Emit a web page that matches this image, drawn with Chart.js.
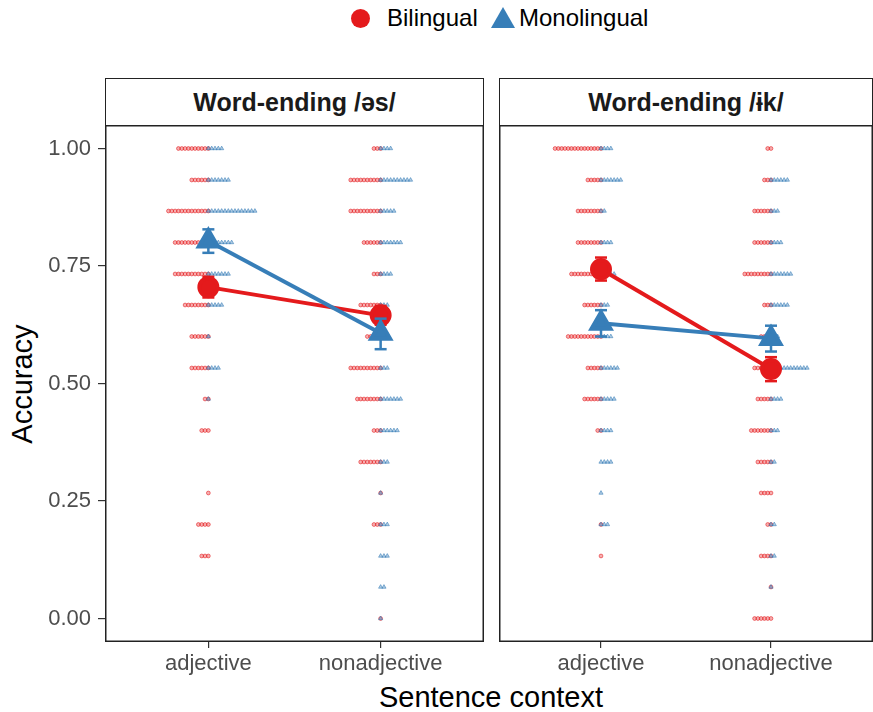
<!DOCTYPE html>
<html><head><meta charset="utf-8">
<script src="https://cdn.jsdelivr.net/npm/chart.js@4.4.1/dist/chart.umd.min.js"></script>
<style>
body{margin:0;background:#fff;}
#wrap{position:relative;width:873px;height:712px;overflow:hidden;font-family:"Liberation Sans",Arial,sans-serif;background:#fff;}
canvas{position:absolute;}
.strip{position:absolute;top:78px;height:48px;box-sizing:border-box;border:1.5px solid #222;border-bottom:none;display:flex;align-items:center;justify-content:center;font-weight:bold;font-size:25px;color:#1a1a1a;}
.txt{position:absolute;white-space:nowrap;color:#000;}
</style></head>
<body><div id="wrap">
<div class="strip" style="left:105px;width:379px;">Word-ending /əs/</div>
<div class="strip" style="left:499px;width:374px;">Word-ending /ɨk/</div>
<div style="position:absolute;left:351px;top:9px;width:19px;height:19px;border-radius:50%;background:#E41A1C;"></div>
<div class="txt" style="left:387px;top:4px;font-size:24px;">Bilingual</div>
<svg style="position:absolute;left:490px;top:5px;" width="26" height="26"><polygon points="1,23 25,23 13,2" fill="#377EB8"/></svg>
<div class="txt" style="left:519px;top:4px;font-size:24px;">Monolingual</div>
<div class="txt" style="left:22px;top:384px;font-size:29px;transform:translate(-50%,-50%) rotate(-90deg);">Accuracy</div>
<div class="txt" style="left:491px;top:697px;font-size:29px;transform:translate(-50%,-50%);">Sentence context</div>
<canvas id="c1" width="484" height="587" style="left:0;top:125px;"></canvas>
<canvas id="c2" width="374" height="587" style="left:499px;top:125px;"></canvas>
</div>
<script>
// ---- data ----
const contexts = ["adjective", "nonadjective"];
const levels = [0, 0.067, 0.133, 0.2, 0.267, 0.333, 0.4, 0.467, 0.533, 0.6, 0.667, 0.733, 0.8, 0.867, 0.933, 1];
const yTicks = [0, 0.25, 0.5, 0.75, 1];
// counts of participants at each accuracy level (panel 1: /əs/, panel 2: /ɨk/)
const p1AdjBi   = [0,0,3,4,1,0,3,2,6,6,8,11,11,13,6,10];
const p1AdjMono = [0,0,0,0,0,0,0,1,4,1,5,7,8,15,7,5];
const p1NonBi   = [1,0,0,3,1,7,3,8,10,5,7,3,6,10,10,3];
const p1NonMono = [1,2,3,3,1,3,6,7,3,3,3,4,7,5,10,4];
const p2AdjBi   = [0,0,1,1,0,0,2,6,5,11,6,10,8,8,5,15];
const p2AdjMono = [0,0,0,3,1,4,4,5,6,4,3,5,4,2,7,4];
const p2NonBi   = [6,1,4,2,4,5,7,5,6,4,3,9,6,6,3,2];
const p2NonMono = [0,1,2,2,0,2,3,4,12,3,6,7,4,3,6,0];
// means and error bars [adjective, nonadjective]
const p1BiMean = [0.705, 0.645], p1BiLo = [0.683, 0.625], p1BiHi = [0.727, 0.665];
const p1MonoMean = [0.803, 0.607], p1MonoLo = [0.778, 0.573], p1MonoHi = [0.828, 0.638];
const p2BiMean = [0.743, 0.531], p2BiLo = [0.719, 0.505], p2BiHi = [0.768, 0.556];
const p2MonoMean = [0.628, 0.596], p2MonoLo = [0.600, 0.568], p2MonoHi = [0.656, 0.623];

const RED = '#E41A1C', BLUE = '#377EB8';
const STEP = 0.0193; // dot stacking step in x units

function dots(countsByCat, dir) {
  const out = [];
  countsByCat.forEach((counts, ci) => {
    counts.forEach((n, li) => {
      for (let k = 0; k < n; k++) out.push({x: ci + 1 + dir * k * STEP, y: levels[li]});
    });
  });
  return out;
}
function meanPts(m) { return m.map((v, i) => ({x: i + 1, y: v})); }
function errPts(lo, hi) {
  const out = [];
  lo.forEach((v, i) => { out.push({x: i + 1, y: v}, {x: i + 1, y: hi[i]}, {x: i + 1, y: null}); });
  return out;
}
function noPad(s) { s.paddingTop = 0; s.paddingBottom = 0; s.paddingLeft = 0; s.paddingRight = 0; }

const borderPlugin = {id: 'pborder', afterDraw(c) {
  const {ctx, chartArea: a} = c; ctx.save(); ctx.strokeStyle = '#222'; ctx.lineWidth = 1.5;
  ctx.strokeRect(a.left + 0.75, a.top + 0.75, a.right - a.left - 1.5, a.bottom - a.top - 1.5); ctx.restore();
}};

function makeChart(id, biCounts, monoCounts, biMean, biLo, biHi, monoMean, monoLo, monoHi, showY) {
  return new Chart(document.getElementById(id), {
    type: 'scatter',
    data: {datasets: [
      {data: dots(biCounts, -1), pointStyle: 'circle', pointRadius: 1.9, backgroundColor: 'rgba(228,26,28,0.35)', borderColor: 'rgba(228,26,28,0.7)', borderWidth: 0.8, order: 10},
      {data: dots(monoCounts, 1), pointStyle: 'triangle', pointRadius: 2.4, backgroundColor: 'rgba(55,126,184,0.4)', borderColor: 'rgba(55,126,184,0.7)', borderWidth: 0.8, order: 9},
      {type: 'line', data: errPts(biLo, biHi), borderColor: RED, borderWidth: 2.5, pointStyle: 'line', pointRadius: 6, pointBorderWidth: 2.5, pointBorderColor: RED, spanGaps: false, order: 6},
      {type: 'line', data: meanPts(biMean), borderColor: RED, borderWidth: 4, pointStyle: 'circle', pointRadius: 9, pointBackgroundColor: RED, pointBorderColor: RED, order: 5},
      {type: 'line', data: errPts(monoLo, monoHi), borderColor: BLUE, borderWidth: 2.5, pointStyle: 'line', pointRadius: 6, pointBorderWidth: 2.5, pointBorderColor: BLUE, spanGaps: false, order: 4},
      {type: 'line', data: meanPts(monoMean), borderColor: BLUE, borderWidth: 4, pointStyle: 'triangle', pointRadius: 11, pointBackgroundColor: BLUE, pointBorderColor: BLUE, order: 3}
    ]},
    options: {
      responsive: false, animation: false, devicePixelRatio: 1,
      layout: {padding: 0, autoPadding: false},
      plugins: {legend: {display: false}, tooltip: {enabled: false}},
      scales: {
        x: {type: 'linear', min: 0.4, max: 2.6,
          afterBuildTicks: s => { s.ticks = [{value: 1}, {value: 2}]; },
          afterFit: s => { s.height = 70; noPad(s); },
          ticks: {callback: (v, i) => contexts[i], font: {family: 'Liberation Sans', size: 22}, color: '#4d4d4d', padding: 3, maxRotation: 0, autoSkip: false},
          grid: {drawOnChartArea: false, drawTicks: true, tickLength: 6, color: '#333', lineWidth: 1.2},
          border: {display: false}},
        y: {display: showY, min: -0.05, max: 1.05,
          afterBuildTicks: s => { s.ticks = yTicks.map(v => ({value: v})); },
          afterFit: s => { s.width = showY ? 105 : 0; noPad(s); },
          ticks: {callback: v => v.toFixed(2), font: {family: 'Liberation Sans', size: 22}, color: '#4d4d4d', padding: 7},
          grid: {drawOnChartArea: false, drawTicks: true, tickLength: 7, color: '#333', lineWidth: 1.2},
          border: {display: false}}
      }
    },
    plugins: [borderPlugin]
  });
}
makeChart('c1', [p1AdjBi, p1NonBi], [p1AdjMono, p1NonMono], p1BiMean, p1BiLo, p1BiHi, p1MonoMean, p1MonoLo, p1MonoHi, true);
makeChart('c2', [p2AdjBi, p2NonBi], [p2AdjMono, p2NonMono], p2BiMean, p2BiLo, p2BiHi, p2MonoMean, p2MonoLo, p2MonoHi, false);
</script>
</body></html>
